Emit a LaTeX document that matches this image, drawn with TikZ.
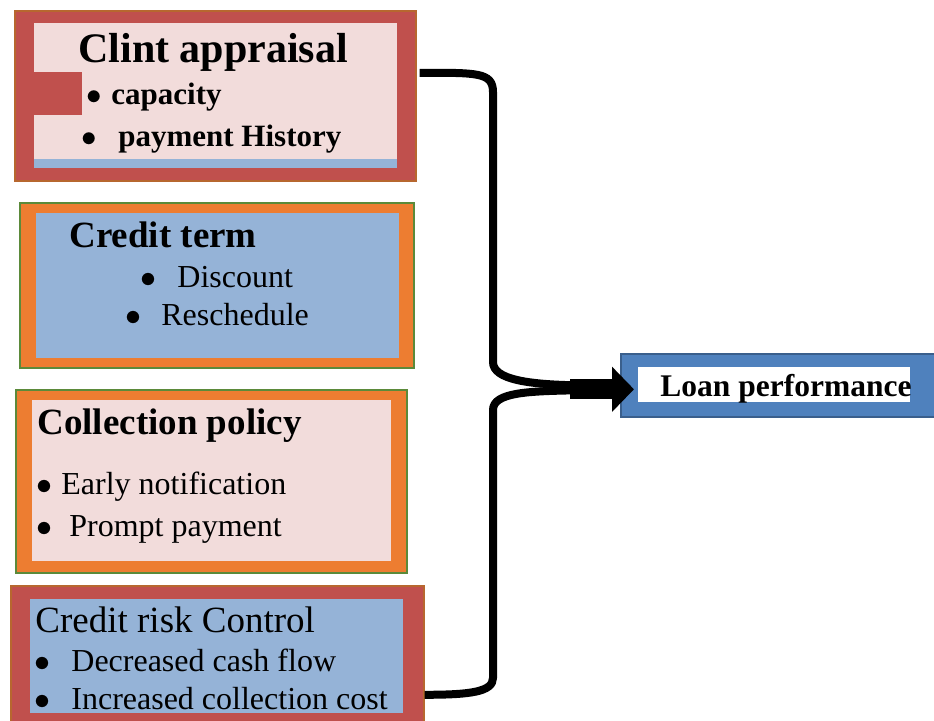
\RequirePackage{fix-cm}
\documentclass[tikz,border=0pt]{standalone}
\usepackage{fontspec}
\setmainfont{Liberation Serif}
\usepackage{xcolor}
\usepackage{tikz}
\usetikzlibrary{arrows.meta,calc}

\definecolor{boxred}{HTML}{C0504D}
\definecolor{boxrim}{HTML}{B7672F}
\definecolor{boxpink}{HTML}{F2DCDB}
\definecolor{boxblue}{HTML}{95B3D7}
\definecolor{boxorange}{HTML}{ED7D31}
\definecolor{boxgreen}{HTML}{5B8A3A}
\definecolor{loanblue}{HTML}{4F81BD}
\definecolor{loanrim}{HTML}{3A5F8C}

\newcommand\bl[1]{$\bullet$\hspace{#1}}

\begin{document}
\begin{tikzpicture}[x=0.5pt,y=-0.5pt,
  panel/.style={draw=#1, line width=0.8pt, anchor=north west, inner sep=0pt},
  head/.style={anchor=base west, inner sep=0pt, font=\fontsize{18.5}{22}\selectfont\bfseries},
  line/.style={anchor=base west, inner sep=0pt, font=\fontsize{16}{19}\selectfont},
  brace/.style={line width=4pt, line join=round},
  bigarrow/.style={line width=10pt, -{Triangle[length=11pt,width=22pt]}}]
  \useasboundingbox (0,0) rectangle (934,721);
  \clip (0,0) rectangle (934,721);

  % client appraisal
  \node[panel=boxrim, fill=boxred, minimum width=200.5pt, minimum height=85pt] (clint) at (14,10) {};
  \fill[boxpink] ($(clint.north west)+(20,13)$) rectangle ($(clint.south east)+(-20,-23)$);
  \fill[boxblue] ($(clint.south west)+(20,-23)$) rectangle ($(clint.south east)+(-20,-14)$);
  \fill[boxred] ($(clint.north west)+(20,62)$) rectangle ($(clint.north west)+(68,105)$);
  \node[head, font=\fontsize{21}{25}\selectfont\bfseries] (clintT) at (78,63) {Clint appraisal};
  \node[line, font=\fontsize{15.5}{19}\selectfont\bfseries] (cap) at (86,105) {\bl{4.75pt}capacity};
  \node[line, font=\fontsize{15.5}{19}\selectfont\bfseries] (hist) at (81,147) {\bl{10.75pt}payment History};

  % credit term
  \node[panel=boxgreen, fill=boxorange, minimum width=197pt, minimum height=82.5pt] (term) at (19,202) {};
  \fill[boxblue] ($(term.north west)+(17,11)$) rectangle ($(term.south east)+(-16,-11)$);
  \node[head] (termT) at (69,248) {Credit term};
  \node[line] (disc) at (140,288) {\bl{10.5pt}Discount};
  \node[line] (resch) at (125,326) {\bl{10pt}Reschedule};

  % collection policy
  \node[panel=boxgreen, fill=boxorange, minimum width=195.5pt, minimum height=91.5pt] (policy) at (15,389) {};
  \fill[boxpink] ($(policy.north west)+(17,11)$) rectangle ($(policy.south east)+(-17,-13)$);
  \node[head] (policyT) at (37,435) {Collection policy};
  \node[line] (early) at (36,495) {\bl{4.5pt}Early notification};
  \node[line] (prompt) at (36,537) {\bl{8.5pt}Prompt payment};

  % credit risk control
  \node[panel=boxrim, fill=boxred, minimum width=206.5pt, minimum height=77.5pt] (risk) at (10,585) {};
  \fill[boxblue] ($(risk.north west)+(20,14)$) rectangle ($(risk.north west)+(393,128)$);
  \node[head, font=\fontsize{18.5}{22}\selectfont] (riskT) at (35,633) {Credit risk Control};
  \node[line] (cash) at (34,672) {\bl{10.5pt}Decreased cash flow};
  \node[line] (cost) at (34,710) {\bl{10.5pt}Increased collection cost};

  % loan performance
  \node[panel=loanrim, fill=loanblue, minimum width=170pt, minimum height=31.5pt] (loan) at (620,353) {};
  \fill[white] ($(loan.north west)+(18,14)$) rectangle ($(loan.north west)+(290,49)$);
  \node[line, font=\fontsize{15.75}{19}\selectfont\bfseries] (loanT) at (660,397) {Loan performance};

  % brace and arrow
  \coordinate (tail) at ($(loan.west)+(-50,4)$);
  \draw[brace] ($(clint.east)+(3,-23)$) .. controls +(57,0) and +(0,-20) .. (493,92)
    -- (493,362) .. controls +(0,18) and +(-45,-1) .. ($(tail)+(5,-4)$);
  \draw[brace] ($(tail)+(5,1)$) .. controls +(-45,1) and +(0,-18) .. (493,410)
    -- (493,678) .. controls +(0,14) and +(45,0) .. ($(risk.east)+(0,31.5)$);
  \draw[bigarrow] (tail) -- ($(loan.west)+(14,4)$);
\end{tikzpicture}
\end{document}
